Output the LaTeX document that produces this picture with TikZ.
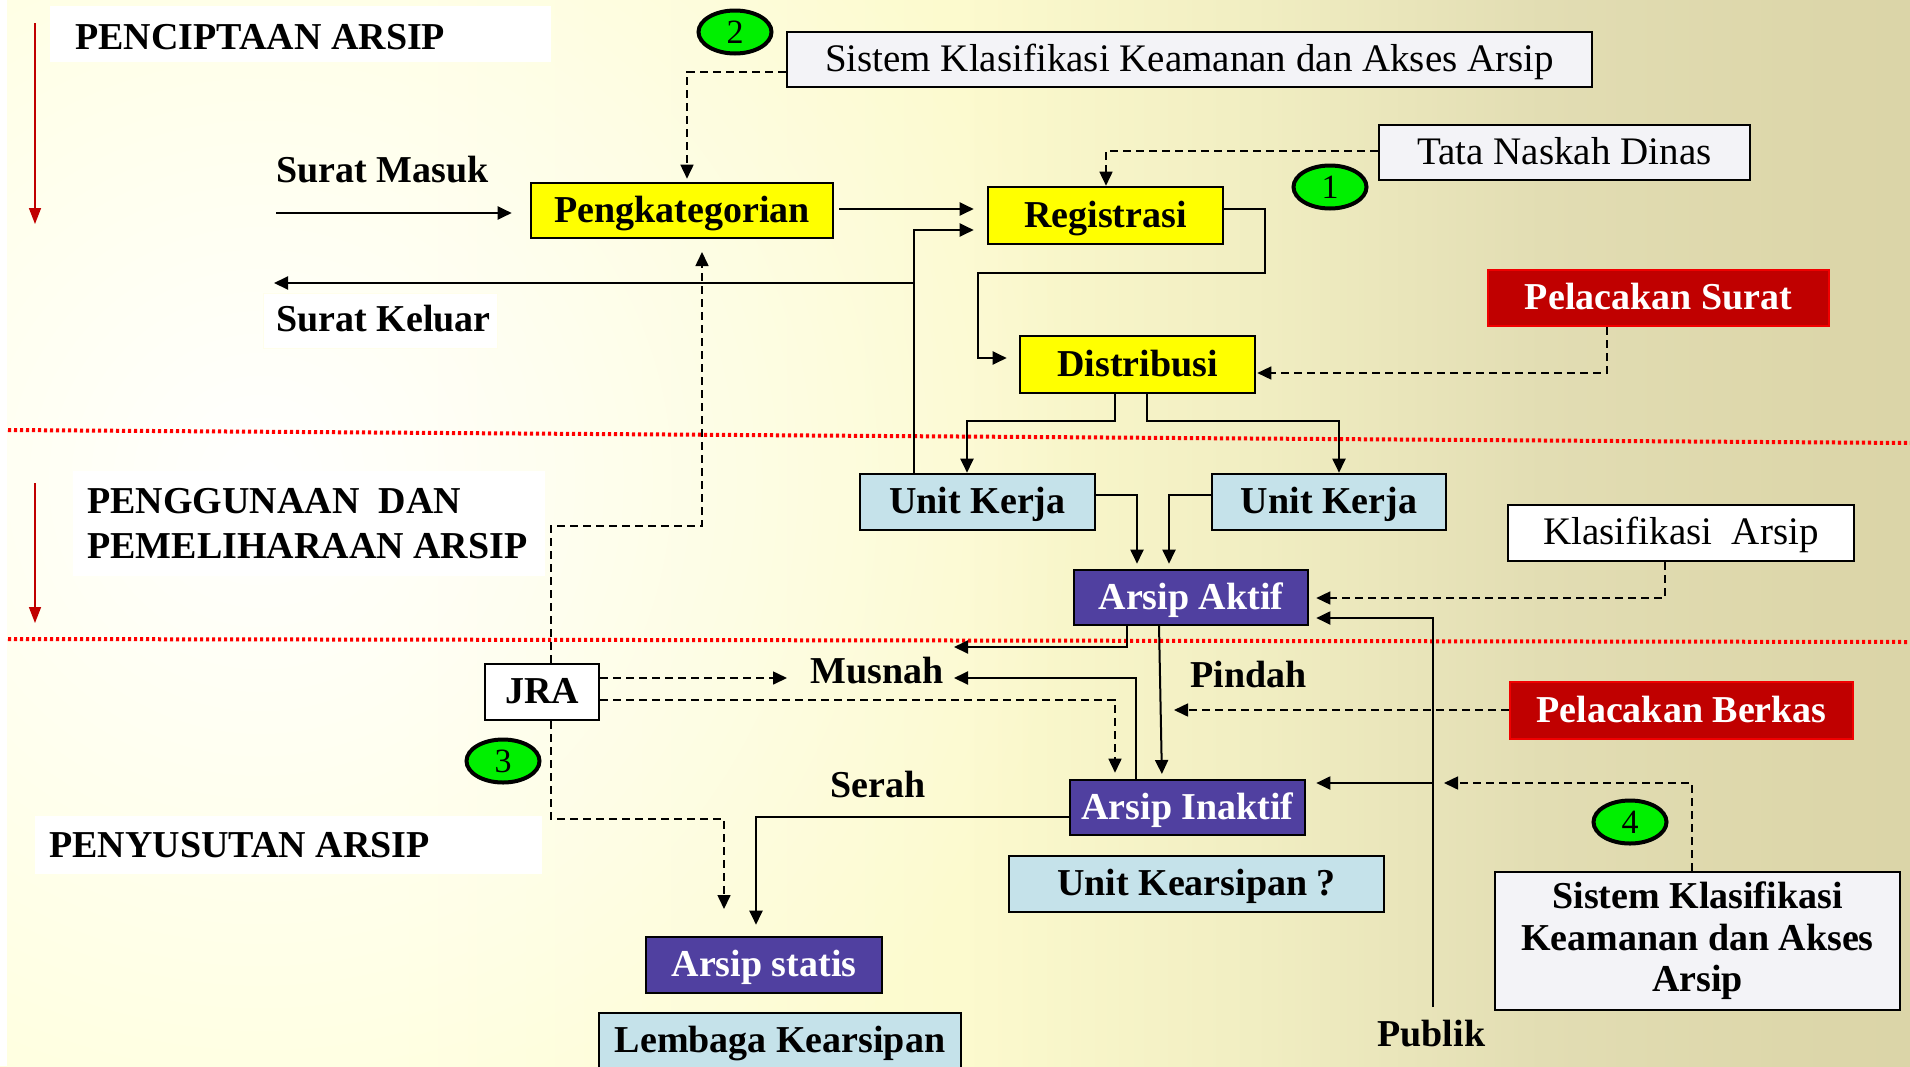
\documentclass[tikz,border=0pt]{standalone}
\usepackage{fontspec}
\setmainfont{Liberation Serif}
\usetikzlibrary{arrows.meta,shapes.geometric,fadings}
\definecolor{yelbox}{HTML}{FFFF00}
\definecolor{bluebox}{HTML}{C5E2EA}
\definecolor{purbox}{HTML}{5040A0}
\definecolor{redbox}{HTML}{C00000}
\definecolor{redline}{HTML}{F00000}
\definecolor{graybox}{HTML}{F3F3F7}
\definecolor{numgreen}{HTML}{00F000}
\definecolor{arrred}{HTML}{C00000}
\definecolor{bg0}{HTML}{FFFFD8}
\definecolor{bg1}{HTML}{FCFACE}
\definecolor{bg2}{HTML}{F1EEC2}
\definecolor{bg3}{HTML}{E2DDB3}
\definecolor{bg4}{HTML}{DCD6A9}
\definecolor{bg5}{HTML}{D5CE9E}
\pgfdeclarehorizontalshading{bglin}{100bp}{color(0bp)=(bg0); color(40bp)=(bg0); color(50bp)=(bg1); color(55bp)=(bg2); color(60bp)=(bg3); color(65bp)=(bg4); color(75bp)=(bg5); color(100bp)=(bg5)}
\tikzfading[name=glowfade, inner color=transparent!0, outer color=transparent!100]
\tikzset{
  boxbase/.style={draw=black, line width=1.3pt, inner sep=0pt, text height=14pt, text depth=2.5pt},
  bfont/.style={font=\fontsize{19}{22}\selectfont\bfseries},
  nfont/.style={font=\fontsize{19.5}{22}\selectfont},
  ybox/.style={boxbase, bfont, fill=yelbox},
  bbox/.style={boxbase, bfont, fill=bluebox},
  pbox/.style={boxbase, bfont, fill=purbox, text=white},
  rbox/.style={boxbase, bfont, draw=redline, fill=redbox, text=white},
  gbox/.style={boxbase, nfont, fill=graybox},
  wbox/.style={boxbase, bfont, fill=white},
  numc/.style={ellipse, draw=black, line width=2pt, fill=numgreen, minimum width=36.5pt, minimum height=21.5pt, inner sep=0pt, font=\fontsize{17}{17}\selectfont},
  lbl/.style={anchor=base west, inner sep=0pt, bfont},
  arr/.style={line width=1pt, -{Triangle[length=7pt,width=6.5pt]}},
  darr/.style={line width=0.8pt, dash pattern=on 4pt off 2.5pt, -{Triangle[length=7pt,width=6.5pt]}},
  redarr/.style={line width=0.8pt, draw=arrred, -{Triangle[length=8pt,width=6pt]}, arrred},
  dotline/.style={draw=red, line width=2pt, dash pattern=on 1.6pt off 1.4pt},
}
\begin{document}
\begin{tikzpicture}[x=0.5pt,y=-0.5pt]
\useasboundingbox (0,0) rectangle (1910,1066);
% background
\begin{scope}
\clip (0,0) rectangle (1910,1066);
\begin{scope}[rotate=-26.57]
\shade[shading=bglin] (0,-1000) rectangle (2200,1100);
\end{scope}
\fill[white, path fading=glowfade] (260,480) circle [radius=820];
\fill[white] (0,0) rectangle (7,1066);
\end{scope}
% white panels behind titles
\fill[white] (50,6) rectangle (551,62);
\fill[white] (73,471) rectangle (545,576);
\fill[white] (35,816) rectangle (542,874);
\draw[white!92!yellow, line width=0.5pt, fill=white] (263,293) rectangle (497,348);

% red dotted separators
\coordinate (d1a) at (8,430); \coordinate (d1b) at (1910,443);
\coordinate (d2a) at (8,639); \coordinate (d2b) at (1910,642);
\draw[dotline] (d1a) -- (d1b);
\draw[dotline] (d2a) -- (d2b);

% red arrows
\coordinate (r1a) at (35,23); \coordinate (r1b) at (35,224);
\coordinate (r2a) at (35,483); \coordinate (r2b) at (35,623);
\draw[redarr] (r1a) -- (r1b);
\draw[redarr] (r2a) -- (r2b);

% titles and labels
\node[lbl] (t1) at (75,49) {PENCIPTAAN ARSIP};
\node[lbl] (t2) at (87,513) {PENGGUNAAN\ \ DAN};
\node[lbl] (t3) at (87,558) {PEMELIHARAAN ARSIP};
\node[lbl] (t4) at (49,857) {PENYUSUTAN ARSIP};
\node[lbl] (lsm) at (276,182) {Surat Masuk};
\node[lbl] (lsk) at (276,331) {Surat Keluar};
\node[lbl] (lmus) at (810,683) {Musnah};
\node[lbl] (lser) at (830,797) {Serah};
\node[lbl] (lpin) at (1190,687) {Pindah};
\node[lbl] (lpub) at (1377,1046) {Publik};

% boxes
\node[gbox, minimum width=402.5pt, minimum height=27.5pt] (sk1) at (1189.5,59.5) {Sistem Klasifikasi Keamanan dan Akses Arsip};
\node[gbox, minimum width=185.5pt, minimum height=27.5pt] (tata) at (1564.5,152.5) {Tata Naskah Dinas};
\node[ybox, minimum width=151pt, minimum height=27.5pt] (peng) at (682,210.5) {Pengkategorian};
\node[ybox, minimum width=117.5pt, minimum height=28.5pt] (reg) at (1105.5,215.5) {Registrasi};
\node[ybox, minimum width=117.5pt, minimum height=28.5pt] (dist) at (1137.5,364.5) {Distribusi};
\node[rbox, minimum width=170.5pt, minimum height=28pt] (pelS) at (1658.5,298) {Pelacakan Surat};
\node[bbox, minimum width=117.5pt, minimum height=28pt] (uk1) at (977.5,502) {Unit Kerja};
\node[bbox, minimum width=117pt, minimum height=28pt] (uk2) at (1329,502) {Unit Kerja};
\node[gbox, fill=white, minimum width=173pt, minimum height=28pt] (klas) at (1681,533) {Klasifikasi\ \ Arsip};
\node[pbox, minimum width=117pt, minimum height=27.5pt] (aktif) at (1191,597.5) {Arsip Aktif};
\node[wbox, minimum width=57pt, minimum height=28pt] (jra) at (542,692) {JRA};
\node[rbox, minimum width=171.5pt, minimum height=28.5pt] (pelB) at (1681.5,710.5) {Pelacakan Berkas};
\node[pbox, minimum width=117.5pt, minimum height=27.5pt] (inaktif) at (1187.5,807.5) {Arsip Inaktif};
\node[bbox, minimum width=187.5pt, minimum height=28pt] (ukars) at (1196.5,884) {Unit Kearsipan ?};
\node[draw=black, line width=1.3pt, fill=graybox, font=\fontsize{19}{20.75}\selectfont\bfseries, align=center, minimum width=202.5pt, minimum height=69pt, inner sep=0pt] (sk2) at (1697.5,941) {Sistem Klasifikasi\\Keamanan dan Akses\\Arsip};
\node[pbox, minimum width=118pt, minimum height=28pt] (statis) at (764,965) {Arsip statis};
\draw[draw=black, line width=1.3pt, fill=bluebox] (599,1013) rectangle (961,1080);
\node[lbl, anchor=base] (lemb) at (780,1052) {Lembaga Kearsipan};

% number badges
\node[numc] (n2) at (735,32) {2};
\node[numc] (n1) at (1330,187) {1};
\node[numc] (n3) at (503,761) {3};
\node[numc] (n4) at (1630,822) {4};

% --- connectors ---
\coordinate (k1) at (687,72);
\draw[darr, shorten >=1.5pt] (sk1.west |- k1) -- (k1) -- (k1 |- peng.north);
\coordinate (k2) at (1106,151);
\draw[darr] (tata.west |- k2) -- (k2) -- (k2 |- reg.north);
\coordinate (sm) at (276,213);
\draw[arr, shorten >=9pt] (sm) -- (sm -| peng.west);
\coordinate (k3) at (839,209);
\draw[arr, shorten >=6.5pt] (k3) -- (k3 -| reg.west);
\coordinate (k4) at (914,230);
\draw[arr, shorten >=6.5pt] (k4 |- uk1.north) -- (k4) -- (k4 -| reg.west);
\coordinate (k5) at (914,283); \coordinate (skl) at (274,283);
\draw[arr] (k5) -- (skl);
\coordinate (k6a) at (1265,209); \coordinate (k6) at (1265,273); \coordinate (k7) at (978,358);
\draw[arr, shorten >=6pt] (reg.east |- k6a) -| (k6) -| (k7) -- (k7 -| dist.west);
\coordinate (k8) at (1607,373);
\draw[darr, shorten >=0.5pt] (k8 |- pelS.south) -- (k8) -- (k8 -| dist.east);
\coordinate (k9) at (1115,421); \coordinate (k10) at (967,421);
\draw[arr] (k9 |- dist.south) -- (k9) -- (k10) -- (k10 |- uk1.north);
\coordinate (k11) at (1147,421); \coordinate (k12) at (1339,421);
\draw[arr] (k11 |- dist.south) -- (k11) -- (k12) -- (k12 |- uk2.north);
\coordinate (k13) at (1137,495);
\draw[arr, shorten >=2.5pt] (uk1.east |- k13) -- (k13) -- (k13 |- aktif.north);
\coordinate (k14) at (1169,495);
\draw[arr, shorten >=2.5pt] (uk2.west |- k14) -- (k14) -- (k14 |- aktif.north);
\coordinate (k15) at (1665,598);
\draw[darr, shorten >=3.5pt] (k15 |- klas.south) -- (k15) -- (k15 -| aktif.east);
\coordinate (pb) at (1433,1007); \coordinate (k16) at (1433,618); \coordinate (k17) at (1433,783);
\draw[arr, shorten >=3.5pt] (pb) -- (k16) -- (k16 -| aktif.east);
\draw[arr, shorten >=5pt] (k17) -- (k17 -| inaktif.east);
\coordinate (k18) at (1692,783); \coordinate (k19) at (1444,783);
\draw[darr] (k18 |- sk2.north) -- (k18) -- (k19);
\coordinate (k20) at (1174,710);
\draw[darr] (pelB.west |- k20) -- (k20);
\coordinate (k21) at (1127,647); \coordinate (k22) at (954,647);
\draw[arr] (k21 |- aktif.south) -- (k21) -- (k22);
\coordinate (k23) at (1136,678); \coordinate (k24) at (954,678);
\draw[arr] (k23 |- inaktif.north) -- (k23) -- (k24);
\coordinate (k25a) at (1159,625); \coordinate (k25b) at (1162,780);
\draw[arr, shorten >=3pt] (k25a) -- (k25b);
\coordinate (k26) at (787,678);
\draw[darr] (jra.east |- k26) -- (k26);
\coordinate (k27) at (1115,700);
\draw[darr, shorten >=3pt] (jra.east |- k27) -- (k27) -- (k27 |- inaktif.north);
\coordinate (k28) at (551,526); \coordinate (k29) at (702,526); \coordinate (k30) at (702,252);
\draw[darr] (k28 |- jra.north) -- (k28) -- (k29) -- (k30);
\coordinate (k31) at (551,819); \coordinate (k32) at (724,819); \coordinate (k33) at (724,909);
\draw[darr] (k31 |- jra.south) -- (k31) -- (k32) -- (k33);
\coordinate (k34) at (756,817);
\draw[arr, shorten >=5.5pt] (inaktif.west |- k34) -- (k34) -- (k34 |- statis.north);
\end{tikzpicture}
\end{document}
